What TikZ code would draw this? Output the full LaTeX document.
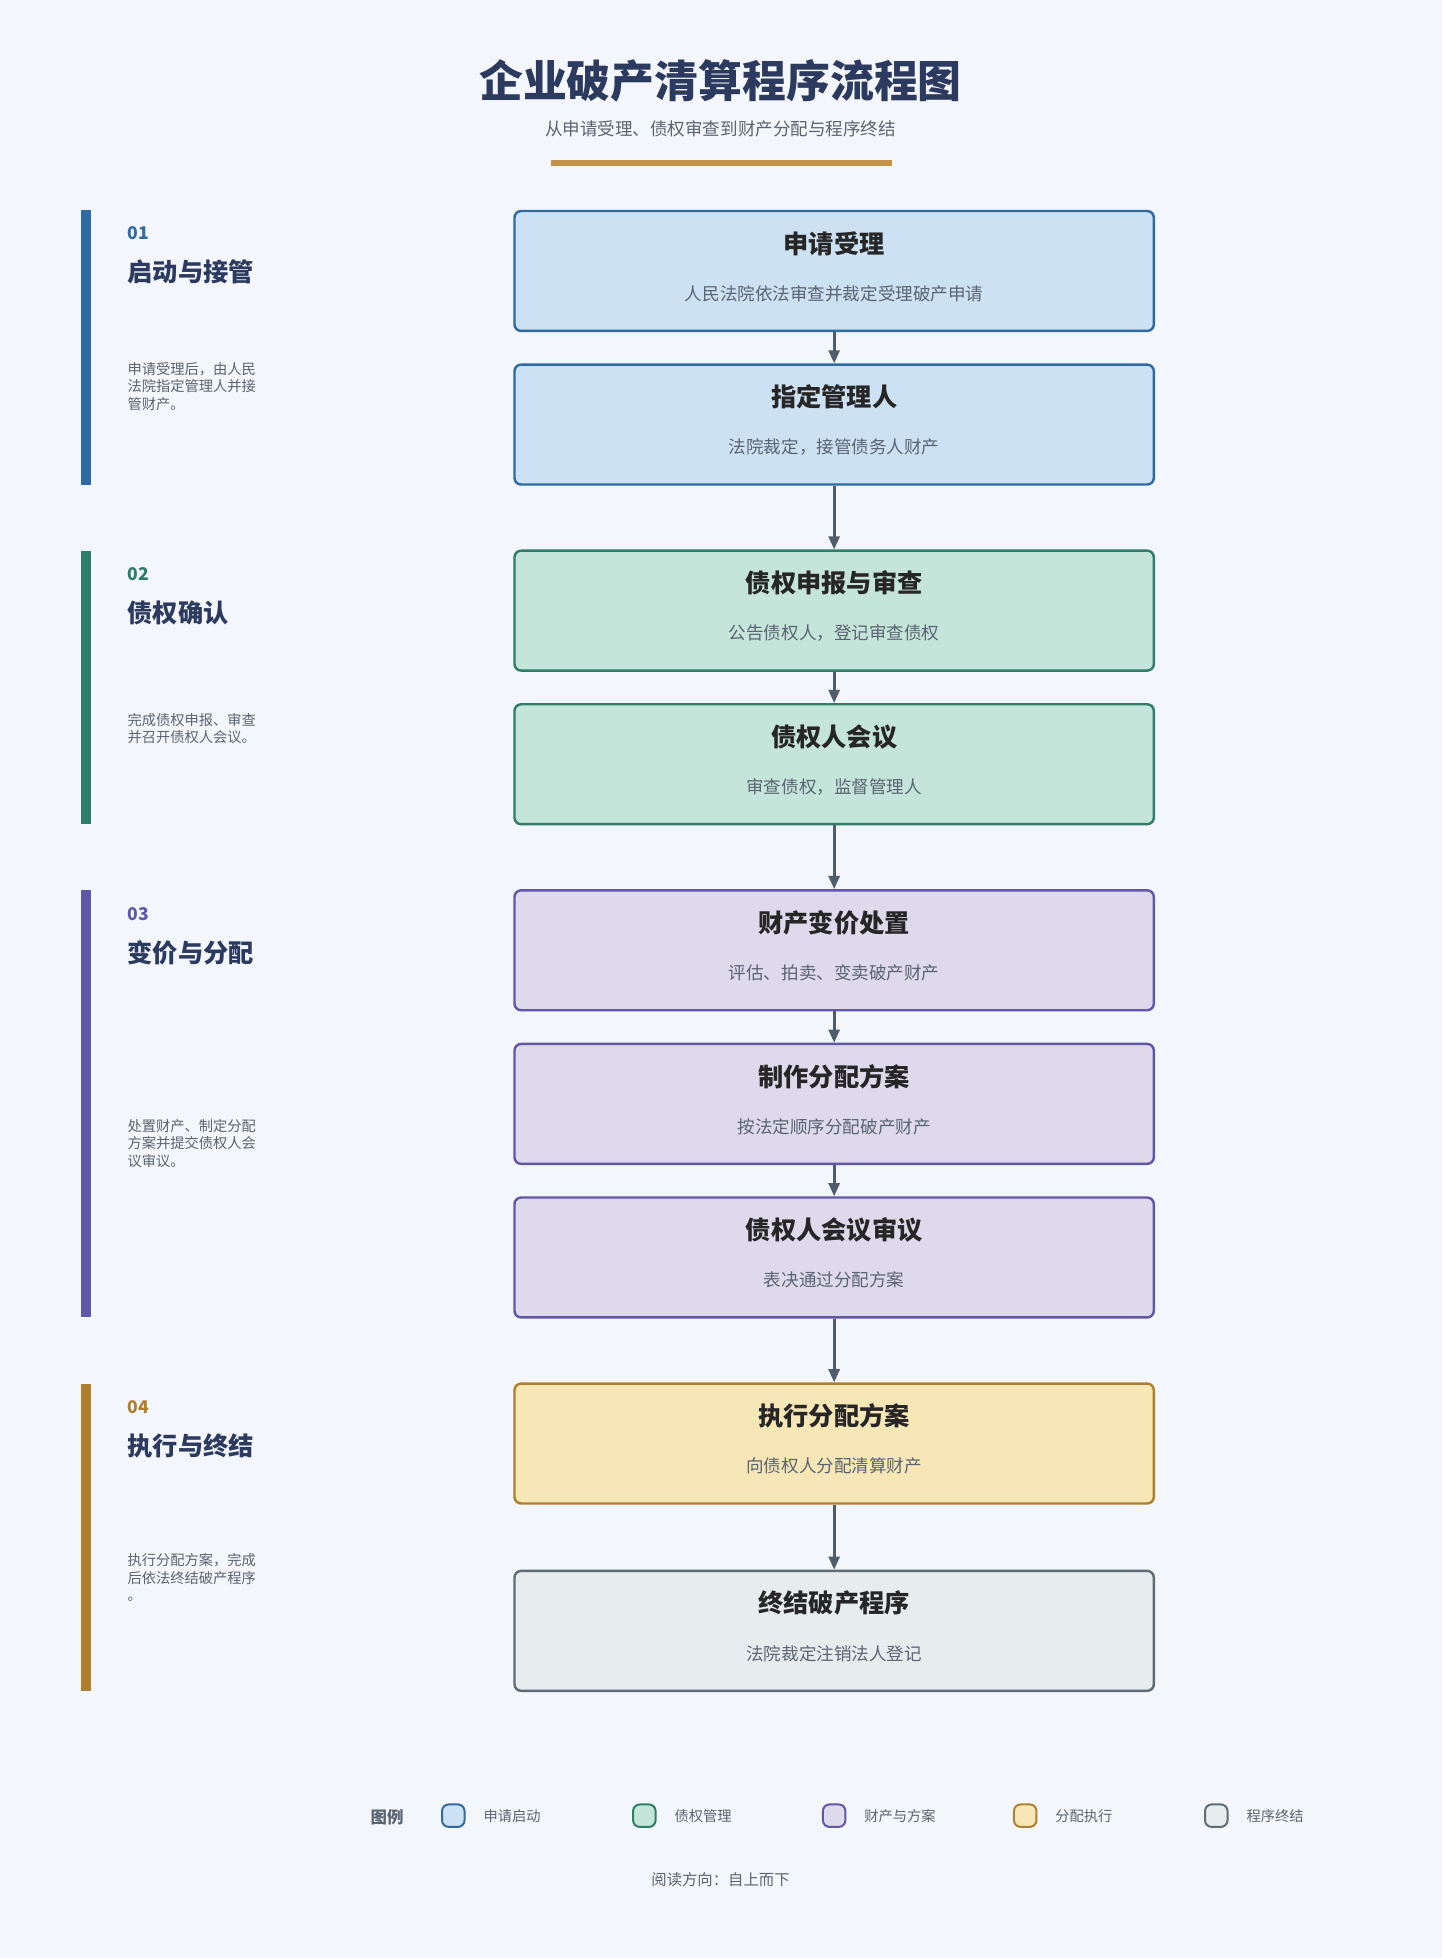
\documentclass[tikz,border=0pt]{standalone}
\usepackage{fontspec}
\setmainfont{Noto Sans CJK SC}
\usetikzlibrary{arrows.meta,positioning}
\definecolor{bgc}{HTML}{F3F6FA}
\definecolor{ink}{HTML}{2B3A5E}
\definecolor{subc}{HTML}{5A6472}
\definecolor{gold}{HTML}{C4924A}
\definecolor{fA}{HTML}{CCE1F4}\definecolor{dA}{HTML}{2F6AA0}
\definecolor{fB}{HTML}{C5E5DA}\definecolor{dB}{HTML}{2E7D66}
\definecolor{fC}{HTML}{DEDAEB}\definecolor{dC}{HTML}{6257A6}
\definecolor{fD}{HTML}{F7E7B6}\definecolor{dD}{HTML}{AE7F2E}
\definecolor{fE}{HTML}{E7ECEF}\definecolor{dE}{HTML}{5F6B75}
\definecolor{arr}{HTML}{4F5D6B}

\begin{document}
\begin{tikzpicture}[x=0.02cm,y=-0.02cm,
  step/.style={draw=d#1,fill=f#1,line width=1.1pt,rounded corners=3pt,minimum width=512*0.02cm,minimum height=96*0.02cm,inner sep=0pt},
  ttl/.style={font=\fontsize{11.5}{13}\selectfont\bfseries,text=black!85},
  sub/.style={font=\fontsize{8}{10}\selectfont,text=subc},
  flow/.style={-{Triangle[length=6pt,width=5pt]},draw=arr,line width=1.3pt},
  swatch/.style={draw=d#1,fill=f#1,line width=0.9pt,rounded corners=3pt,minimum size=18*0.02cm,inner sep=0pt},
  leg/.style={font=\fontsize{6.5}{8}\selectfont,text=subc,anchor=west}]
\fill[bgc] (0,0) rectangle (1155,1568);
\node[font=\fontsize{20}{24}\selectfont\bfseries,text=ink] (title) at (577,65) {企业破产清算程序流程图};
\node[font=\fontsize{8}{10}\selectfont,text=subc] (subtitle) at (577,103) {从申请受理、债权审查到财产分配与程序终结};
\fill[gold] (441,128) rectangle (714,133);

% phases on the left
\foreach \c/\ya/\yb/\num/\dy/\name/\txt in {
  dA/168/388/01/116/启动与接管/{申请受理后，由人民\\法院指定管理人并接\\管财产。},
  dB/441/660/02/124/债权确认/{完成债权申报、审查\\并召开债权人会议。},
  dC/713/1055/03/177/变价与分配/{处置财产、制定分配\\方案并提交债权人会\\议审议。},
  dD/1108/1354/04/130/执行与终结/{执行分配方案，完成\\后依法终结破产程序\\。}}{
  \fill[\c] (65,\ya) rectangle (73,\yb);
  \node[anchor=west,font=\fontsize{8}{10}\selectfont\bfseries,text=\c] at (96,\ya+19) {\num};
  \node[anchor=west,font=\fontsize{11.5}{13}\selectfont\bfseries,text=ink] at (96,\ya+50) {\name};
  \node[anchor=north west,align=left,font=\fontsize{6.5}{8}\selectfont,text=subc] at (96,\ya+\dy) {\txt};
}

% steps
\node[step=A] (apply)  at (668,217)  {};
\node[step=A] (admin)  at (668,340)  {};
\node[step=B] (claim)  at (668,489)  {};
\node[step=B] (meet)   at (668,612)  {};
\node[step=C] (sell)   at (668,761)  {};
\node[step=C] (plan)   at (668,884)  {};
\node[step=C] (vote)   at (668,1007) {};
\node[step=D] (exec)   at (668,1156) {};
\node[step=E] (close)  at (668,1306) {};
\foreach \n/\t/\s in {apply/申请受理/人民法院依法审查并裁定受理破产申请,
  admin/指定管理人/法院裁定，接管债务人财产,
  claim/债权申报与审查/公告债权人，登记审查债权,
  meet/债权人会议/审查债权，监督管理人,
  sell/财产变价处置/评估、拍卖、变卖破产财产,
  plan/制作分配方案/按法定顺序分配破产财产,
  vote/债权人会议审议/表决通过分配方案,
  exec/执行分配方案/向债权人分配清算财产,
  close/终结破产程序/法院裁定注销法人登记}{
  \node[ttl] at ([yshift=-27*0.02cm]\n.north) {\t};
  \node[sub] at ([yshift=-67*0.02cm]\n.north) {\s};
}
\path (apply) edge[flow] (admin)
      (admin) edge[flow] (claim)
      (claim) edge[flow] (meet)
      (meet)  edge[flow] (sell)
      (sell)  edge[flow] (plan)
      (plan)  edge[flow] (vote)
      (vote)  edge[flow] (exec)
      (exec)  edge[flow] (close);

% legend
\node[font=\fontsize{7.5}{9}\selectfont\bfseries,text=subc] (legend) at (310,1455) {图例};
\foreach \c/\x/\t in {A/363/申请启动,B/516/债权管理,C/668/财产与方案,D/821/分配执行,E/974/程序终结}{
  \node[swatch=\c] (sw\c) at (\x,1454) {};
  \node[leg] at (\x+18,1454) {\t};
}
\node[font=\fontsize{7}{9}\selectfont,text=subc] (hint) at (577,1505) {阅读方向：自上而下};
\end{tikzpicture}
\end{document}
